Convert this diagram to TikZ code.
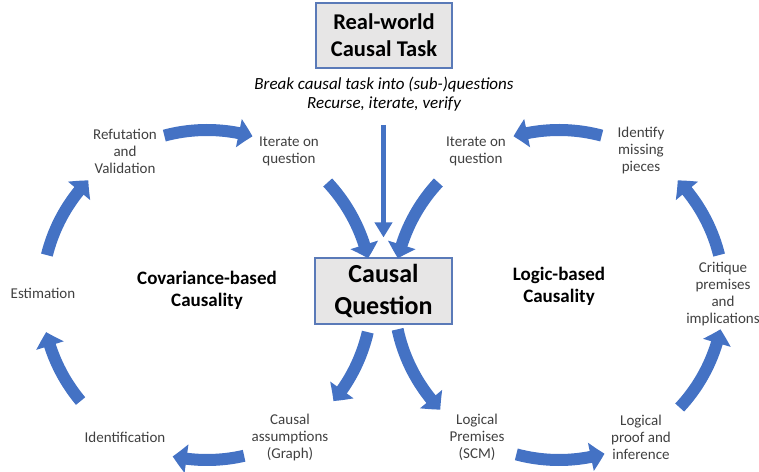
\documentclass[tikz,border=0pt]{standalone}
\usepackage{fontspec}
\setmainfont{Carlito}
\usetikzlibrary{arrows.meta,bending}
\definecolor{arrowblue}{HTML}{4472C4}
\definecolor{boxfill}{HTML}{E7E6E6}
\definecolor{boxline}{HTML}{5A7AB8}
\definecolor{labelgray}{HTML}{404040}
\tikzset{
  bigarrow/.style={draw=arrowblue, line width=12pt,
    -{Triangle[width=28pt,length=14pt,bend]}},
  thinarrow/.style={draw=arrowblue, line width=5.5pt,
    -{Triangle[width=17pt,length=15pt]}},
  lbl/.style={align=center, text=labelgray, font=\fontsize{15}{17}\selectfont, inner sep=0pt},
  sidelbl/.style={align=center, font=\fontsize{19}{22}\selectfont\bfseries, inner sep=0pt},
  graybox/.style={draw=boxline, line width=1.1pt, fill=boxfill, align=center, inner sep=0pt}
}
\begin{document}
\begin{tikzpicture}[x=1pt,y=1pt]
\useasboundingbox (0,0) rectangle (759,471);
% boxes
\node[graybox, minimum width=136pt, minimum height=65pt, font=\fontsize{22.5}{27}\selectfont\bfseries] (task) at (384,435.5) {Real-world\\Causal Task};
\node[align=center, inner sep=0pt, font=\fontsize{17}{19}\selectfont\itshape] (cap) at (384,377) {Break causal task into (sub-)questions\\Recurse, iterate, verify};
\node[graybox, minimum width=137pt, minimum height=66pt, font=\fontsize{26}{32}\selectfont\bfseries] (cq) at (383.5,180) {Causal\\Question};
% side titles
\node[sidelbl] (cov) at (207,181) {Covariance-based\\Causality};
\node[sidelbl] (logic) at (559,185) {Logic-based\\Causality};
% labels left
\node[lbl] (refut) at (125,320) {Refutation\\and\\Validation};
\node[lbl] (iterL) at (289,319.5) {Iterate on\\question};
\node[lbl] (estim) at (43,178) {Estimation};
\node[lbl] (ident) at (125,34) {Identification};
\node[lbl] (cass) at (290,34) {Causal\\assumptions\\(Graph)};
% labels right
\node[lbl] (prem) at (477,34) {Logical\\Premises\\(SCM)};
\node[lbl] (proof) at (641,34) {Logical\\proof and\\inference};
\node[lbl] (crit) at (723,177) {Critique\\premises\\and\\implications};
\node[lbl] (identify) at (641,320) {Identify\\missing\\pieces};
\node[lbl] (iterR) at (476,319.5) {Iterate on\\question};
% circle centres
\coordinate (L) at (207,176);
\coordinate (R) at (559,176);
\coordinate (vtop) at (383.5,346);
% vertical arrow
\draw[thinarrow] (vtop) -- ([yshift=20pt]cq.north);
% left cycle (clockwise)
\draw[bigarrow] (L) ++(105:165) arc[start angle=105, end angle=74, radius=165];
\draw[bigarrow] (L) ++(43:165) arc[start angle=43, end angle=13, radius=166];
\draw[bigarrow] (L) ++(-13:165) arc[start angle=-13, end angle=-40, radius=165];
\draw[bigarrow] (L) ++(-77:165) arc[start angle=-77, end angle=-102, radius=165];
\draw[bigarrow] (L) ++(-140:165) arc[start angle=-140, end angle=-167, radius=165];
\draw[bigarrow] (L) ++(166:165) arc[start angle=166, end angle=136, radius=165];
% right cycle (counter-clockwise)
\draw[bigarrow] (R) ++(192:165) arc[start angle=192, end angle=224, radius=165];
\draw[bigarrow] (R) ++(255:165) arc[start angle=255, end angle=286, radius=165];
\draw[bigarrow] (R) ++(317:165) arc[start angle=317, end angle=348, radius=165];
\draw[bigarrow] (R) ++(14:165) arc[start angle=14, end angle=44, radius=165];
\draw[bigarrow] (R) ++(75:165) arc[start angle=75, end angle=106, radius=165];
\draw[bigarrow] (R) ++(137:165) arc[start angle=137, end angle=167, radius=166];
\end{tikzpicture}
\end{document}
